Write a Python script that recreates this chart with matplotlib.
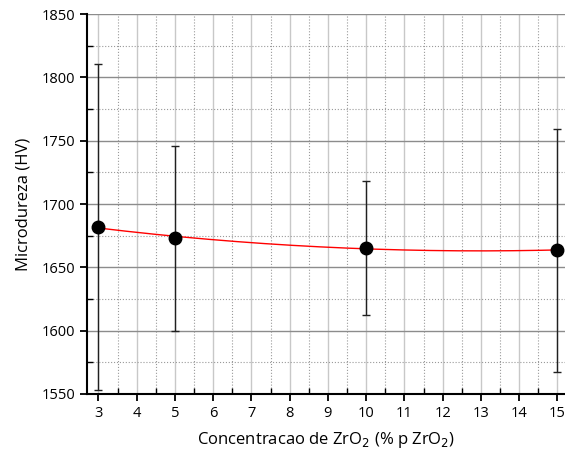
import numpy as np
import matplotlib.pyplot as plt
from matplotlib.ticker import MultipleLocator

# dados
conc = [3, 5, 10, 15]
dureza = [1682, 1673, 1665.5, 1663.5]
erro = [129, 73, 53, 96]

plt.rcParams['font.family'] = ['Open Sans', 'DejaVu Sans']

fig = plt.figure(figsize=(5.65, 4.57), dpi=100)
ax = fig.add_axes([0.154, 0.138, 0.846, 0.831])

# grade
ax.xaxis.set_major_locator(MultipleLocator(1))
ax.xaxis.set_minor_locator(MultipleLocator(0.5))
ax.yaxis.set_major_locator(MultipleLocator(50))
ax.yaxis.set_minor_locator(MultipleLocator(25))
ax.grid(axis='x', which='major', color='#c8c8c8', lw=1.0, ls='-')
ax.grid(axis='x', which='minor', color='#9a9a9a', lw=0.8, ls=':')
ax.grid(axis='y', which='major', color='#8c8c8c', lw=1.0, ls='-')
ax.grid(axis='y', which='minor', color='#9a9a9a', lw=0.8, ls=':')
ax.set_axisbelow(True)

# ajuste polinomial
coef = np.polyfit(conc, dureza, 2)
xf = np.linspace(3, 15, 200)
ax.plot(xf, np.polyval(coef, xf), color='red', lw=1.0, zorder=3)

ax.errorbar(conc, dureza, yerr=erro, fmt='o', color='black', ms=9,
            ecolor='#202020', elinewidth=1.0, capsize=3, capthick=1.0, zorder=4)

ax.set_xlim(2.70, 15.2)
ax.set_ylim(1550, 1850)

for s in ['top', 'right']:
    ax.spines[s].set_visible(False)
ax.spines['left'].set_linewidth(1.5)
ax.spines['bottom'].set_linewidth(1.5)
ax.tick_params(which='major', direction='out', length=5, width=1.3, labelsize=10.5)
ax.tick_params(which='minor', direction='in', length=4, width=1.0)

ax.set_xlabel('Concentracao de ZrO$_2$ (% p ZrO$_2$)', fontsize=12, labelpad=7)
ax.set_ylabel('Microdureza (HV)', fontsize=12, labelpad=7)

fig.savefig('out.png', dpi=100)
